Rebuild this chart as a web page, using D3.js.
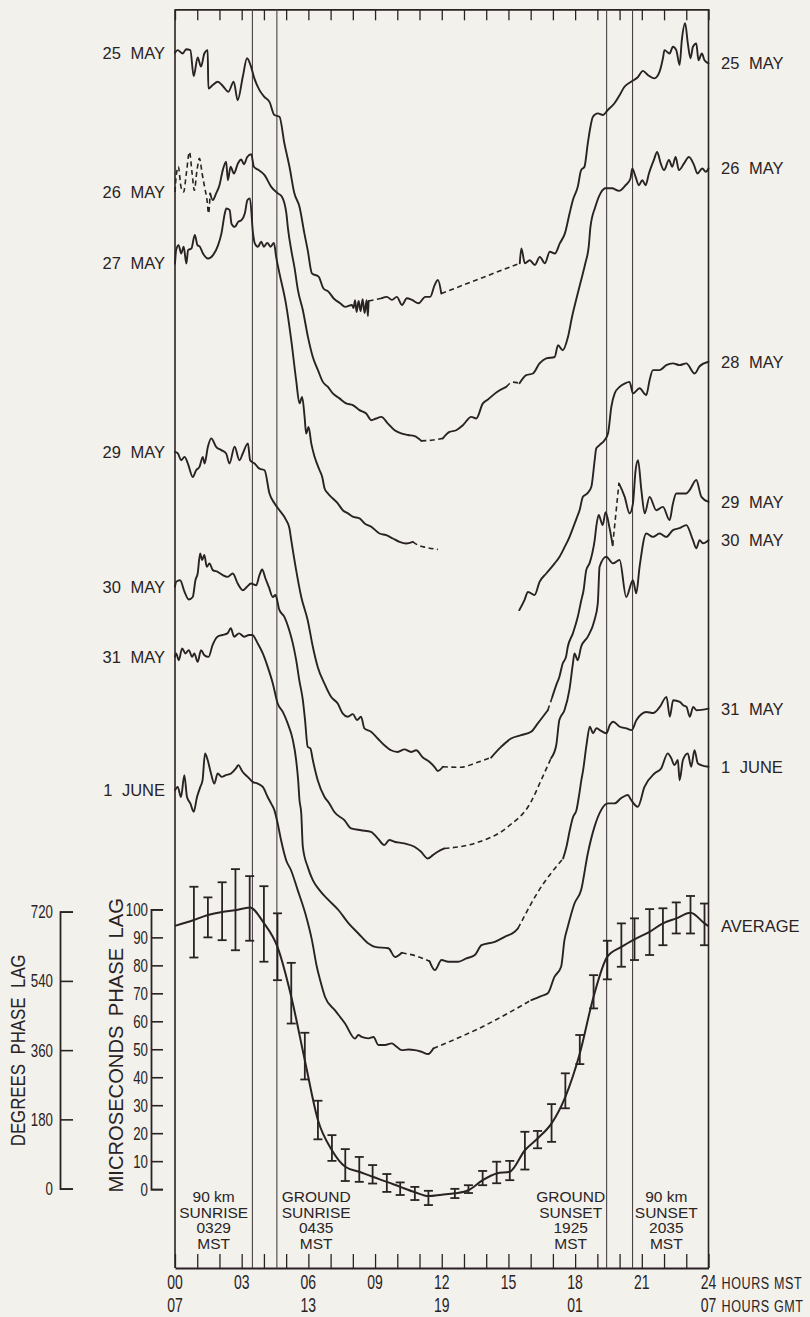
<!DOCTYPE html>
<html>
<head>
<meta charset="utf-8">
<script src="https://cdn.jsdelivr.net/npm/d3@7"></script>
<style>
  html, body { margin: 0; padding: 0; background: #f2f1ec; }
  svg { display: block; }
</style>
</head>
<body>
<svg id="chart" width="810" height="1317"></svg>
<script>
// Hours (MST) and phase lag (microseconds, stacked scale) for each daily record.
// A third element of 1 marks the segment leading to that point as interpolated (dashed).
const may25 = [[0,406.3],[0.12,407.2],[0.35,406.0],[0.50,407.5],[0.69,407.2],[0.84,397.9],[1.02,404.6],[1.17,401.3],[1.32,406.0],[1.47,407.2],[1.50,393.5],[1.70,394.7],[1.92,395.9],[2.15,394.4],[2.40,392.3],[2.64,395.9],[2.82,389.3],[3.05,397.7],[3.24,404.3],[3.42,401.3],[3.57,397.1],[3.80,392.9],[4.02,390.5],[4.25,388.7],[4.47,384.0],[4.70,383.4],[4.92,373.9],[5.15,365.5],[5.37,356.0],[5.60,351.2],[5.82,341.7],[5.97,335.7],[6.16,327.4],[6.46,326.2],[6.68,322.0],[6.91,320.8],[7.13,318.5],[7.43,316.7],[7.66,315.4],[7.96,316.1],[8.03,315.0],[8.10,317.8],[8.17,313.6],[8.26,317.5],[8.35,313.9],[8.44,318.2],[8.53,313.2],[8.62,317.8],[8.68,312.1],[8.71,317.5],[9.31,318.5,1],[9.53,319.0],[9.76,317.9],[9.98,319.0],[10.21,316.1],[10.43,318.5],[10.66,317.9],[10.96,316.7],[11.26,319.0],[11.48,319.0],[11.68,323.2],[11.83,325.0],[11.98,320.2],[15.51,331.0,1],[15.58,336.3],[15.74,331.0],[15.96,332.1],[16.19,330.4],[16.41,333.3],[16.64,331.0],[16.86,335.1],[17.09,334.5],[17.31,338.1],[17.54,341.7],[17.75,348.8],[17.90,353.6],[18.12,358.4],[18.27,364.3],[18.42,365.5],[18.57,373.9],[18.69,379.8],[18.80,383.4],[19.02,384.6],[19.25,384.0],[19.47,385.8],[19.77,388.2],[20.00,391.1],[20.22,394.1],[20.52,395.9],[20.82,397.5],[21.05,399.8],[21.27,398.3],[21.57,397.1],[21.80,399.5],[21.95,404.3],[22.02,407.2],[22.25,406.0],[22.40,408.4],[22.55,407.2],[22.70,401.9],[22.80,410.8],[22.95,416.8],[23.07,409.6],[23.19,404.3],[23.30,408.4],[23.45,409.6],[23.55,403.6],[23.70,406.0],[23.82,403.6],[24,402.5]];

const may26 = [[0,356.5],[0.05,361.9,1],[0.15,365.5,1],[0.27,358.3,1],[0.39,356.5,1],[0.51,363.1,1],[0.65,370.8,1],[0.77,363.1,1],[0.87,357.1,1],[0.99,364.3,1],[1.10,368.5,1],[1.22,363.1,1],[1.33,358.3,1],[1.44,353.6,1],[1.51,348.8,1],[1.58,356.0,1],[1.70,353.6],[1.85,356.0],[2.00,358.9],[2.15,364.3],[2.30,367.3],[2.38,360.7],[2.50,365.5],[2.65,363.1],[2.83,366.7],[2.98,368.1],[3.10,366.4],[3.25,369.0],[3.43,370.0],[3.55,365.5],[3.73,364.5],[4.03,362.5],[4.33,358.3],[4.63,356.0],[4.81,354.8],[5.01,348.8],[5.08,343.6],[5.23,335.7],[5.38,329.3],[5.53,321.4],[5.75,314.3],[5.98,304.7],[6.20,297.5],[6.43,292.8],[6.65,288.6],[6.88,286.8],[7.10,284.5],[7.40,282.7],[7.70,280.9],[8.00,280.3],[8.30,278.5],[8.60,277.3],[8.83,274.9],[9.05,275.5],[9.28,276.1],[9.58,273.7],[9.88,271.3],[10.18,270.2],[10.48,269.6],[10.78,269.2],[11.08,267.5],[11.60,267.8,1],[12.05,268.4,1],[12.35,270.7],[12.65,271.3],[12.95,273.1],[13.33,276.1],[13.55,275.5],[13.85,280.9],[14.08,282.3],[14.47,284.9],[14.90,286.8],[15.19,288.5,1],[15.50,288.1,1],[15.80,291.0],[16.10,291.6],[16.40,295.2],[16.70,297.0],[17.08,297.5],[17.23,301.7],[17.44,299.9],[17.68,304.7],[17.86,311.8],[18.08,319.0],[18.31,326.2],[18.46,331.0],[18.61,336.9],[18.69,344.0],[18.91,351.2],[19.14,356.0],[19.37,357.8],[19.66,357.8],[19.97,356.9],[20.27,358.9],[20.49,361.3],[20.57,364.9],[20.72,361.9],[20.87,358.9],[21.02,360.7],[21.17,358.9],[21.32,363.1],[21.54,367.9],[21.69,370.8],[21.85,366.7],[22.00,364.3],[22.22,367.9],[22.37,365.5],[22.52,369.0],[22.67,364.3],[22.90,366.7],[23.12,369.0],[23.35,366.1],[23.50,363.1],[23.72,364.9],[23.88,363.7],[24,364.9]];

const may27 = [[0,330.9],[0.05,335.7],[0.16,337.5],[0.28,334.5],[0.39,336.9],[0.51,330.9],[0.59,335.7],[0.74,336.3],[0.89,341.1],[1.01,337.5],[1.12,336.9],[1.26,334.5],[1.49,332.7],[1.71,333.9],[1.94,337.5],[2.09,341.7],[2.24,348.8],[2.31,350.6],[2.46,350.0],[2.54,345.2],[2.69,344.0],[2.84,345.8],[2.99,346.4],[3.14,348.8],[3.26,353.6],[3.37,354.2],[3.51,341.7],[3.59,338.1],[3.73,336.9],[3.88,338.7],[4.00,336.9],[4.15,338.3],[4.30,336.9],[4.45,338.3],[4.55,333.3],[4.70,327.4],[4.99,316.6],[5.23,303.5],[5.45,289.2],[5.60,280.9],[5.72,283.2],[5.83,276.1],[5.90,270.1],[6.01,272.5],[6.13,266.6],[6.28,261.8],[6.50,257.1],[6.62,254.7],[6.73,250.5],[6.88,248.7],[7.10,246.9],[7.33,245.1],[7.55,242.7],[7.78,241.6],[8.00,240.4],[8.30,239.8],[8.53,238.0],[8.83,236.8],[9.20,234.4],[9.50,233.8],[9.80,232.6],[10.10,231.4],[10.40,230.8],[10.70,231.4],[11.00,230.0,1],[11.30,229.4,1],[11.83,228.7,1]];

const may28 = [[15.49,207.0],[15.72,210.6],[15.88,213.5],[16.18,212.4],[16.40,217.1],[16.70,220.1],[17.08,223.7],[17.30,226.1],[17.53,229.6],[17.75,233.2],[17.90,236.3],[18.07,239.9],[18.20,242.7],[18.35,247.5],[18.56,248.8],[18.73,251.1],[18.88,260.6],[18.95,264.8],[19.10,266.0],[19.33,267.8],[19.48,270.2],[19.63,279.7],[19.78,284.5],[20.00,286.8],[20.23,288.0],[20.45,288.6],[20.60,284.5],[20.90,286.3],[21.20,283.9],[21.35,289.2],[21.50,292.8],[21.80,292.8],[22.10,294.6],[22.40,295.2],[22.70,294.6],[23.00,295.2],[23.38,291.6],[23.60,294.2],[24,295.8]];

const may29 = [[0,263.6],[0.13,263.0],[0.28,260.6],[0.43,261.8],[0.58,259.4],[0.80,254.6],[0.95,257.0],[1.10,258.2],[1.25,261.8],[1.33,259.4],[1.48,265.4],[1.63,268.4],[1.85,265.4],[2.08,264.2],[2.30,263.0],[2.45,259.4],[2.68,265.4],[2.90,260.6],[3.05,263.0],[3.28,266.6],[3.38,260.6],[3.58,259.4],[3.80,257.6],[4.03,257.0],[4.25,248.7],[4.48,245.1],[4.70,242.7],[5.00,239.2],[5.15,236.2],[5.23,232.0],[5.45,221.3],[5.68,211.7],[5.97,203.4],[6.20,193.9],[6.42,186.7],[6.72,180.8],[7.02,176.0],[7.32,173.6],[7.55,170.0],[7.77,168.9],[8.00,169.8],[8.19,167.7],[8.37,168.9],[8.52,164.7],[8.82,163.5],[9.12,161.1],[9.42,158.7],[9.72,156.9],[10.02,156.3],[10.32,157.2],[10.62,156.3],[10.85,156.9],[11.15,154.3],[11.44,152.8],[11.67,151.0],[11.82,149.5],[12.05,151.0],[12.87,150.8,1],[13.47,152.2,1],[14.22,154.3,1],[14.67,158.1],[15.12,161.1],[15.57,162.3],[16.02,163.5],[16.32,166.5],[16.77,171.2],[16.97,175.9,1],[17.15,180.2],[17.29,183.1],[17.44,187.9],[17.59,190.3],[17.67,193.9],[17.90,198.7],[18.12,204.6],[18.28,210.6],[18.38,214.1],[18.50,221.3],[18.65,223.8],[18.77,227.3],[18.88,232.0],[18.95,236.8],[19.06,241.0],[19.24,237.4],[19.37,242.0],[19.55,236.3],[19.69,230.2],[19.97,252.3,1],[20.23,247.5],[20.45,241.6],[20.60,245.1],[20.72,257.0],[20.83,260.6],[20.98,249.9],[21.13,241.6],[21.35,247.5],[21.65,242.7],[21.95,243.9],[22.25,239.2],[22.40,245.1],[22.55,248.7],[23.00,248.7],[23.15,249.9],[23.45,253.5],[23.68,247.5],[24,245.7]];

const may30 = [[0,215.3],[0.05,217.1],[0.23,217.7],[0.43,213.5],[0.62,210.8],[0.80,211.7],[0.92,217.7],[1.02,220.1],[1.13,227.3],[1.22,224.9],[1.32,226.7],[1.43,222.5],[1.55,223.7],[1.70,221.3],[1.92,220.7],[2.15,219.5],[2.37,218.9],[2.60,220.1],[2.82,216.5],[3.05,214.1],[3.23,215.3],[3.42,216.5],[3.65,215.9],[3.80,219.5],[3.92,221.5],[4.07,218.3],[4.22,215.3],[4.40,211.7],[4.52,212.4],[4.69,207.2],[4.92,204.6],[5.14,199.8],[5.30,195.1],[5.45,189.2],[5.59,182.0],[5.75,174.9],[5.85,167.7],[5.97,158.1],[6.09,157.6],[6.20,153.4],[6.42,146.2],[6.72,140.3],[6.94,137.9],[7.17,134.8],[7.62,131.9],[7.92,129.0],[8.37,128.3],[8.82,127.7],[9.12,125.4],[9.42,123.0],[9.64,124.8],[9.87,124.2],[10.32,123.6],[10.77,122.4],[11.07,120.6],[11.37,118.2],[11.60,119.4],[11.82,120.6],[12.12,121.8],[13.47,123.6,1],[14.97,129.5,1],[16.02,138.5,1],[16.47,146.2,1],[16.92,154.1,1],[17.15,158.7],[17.29,167.7],[17.52,171.2],[17.74,178.4],[17.90,187.9],[17.97,191.5],[18.12,189.1],[18.27,193.9],[18.57,197.5],[18.87,203.4],[19.02,209.4],[19.10,222.5],[19.40,226.1],[19.70,223.7],[20.00,224.9],[20.30,211.7],[20.60,217.7],[20.75,213.0],[20.90,222.5],[21.20,234.4],[21.50,233.2],[21.80,234.4],[22.10,233.2],[22.40,235.6],[22.70,236.3],[23.00,237.4],[23.30,232.0],[23.45,229.1],[23.60,232.0],[23.75,230.9],[24,232.0]];

const may31 = [[0,190.3],[0.05,191.5],[0.17,189.1],[0.32,193.3],[0.47,191.5],[0.62,192.7],[0.77,190.3],[0.87,191.5],[1.02,188.5],[1.17,192.7],[1.32,190.9],[1.51,190.3],[1.69,194.5],[1.91,197.5],[2.13,198.1],[2.36,198.7],[2.51,200.5],[2.66,197.5],[2.88,198.7],[3.11,197.5],[3.33,198.1],[3.48,198.1],[3.72,195.1],[3.95,191.5],[4.17,186.7],[4.40,180.8],[4.62,173.6],[4.85,170.6],[5.07,166.5],[5.30,160.6],[5.45,153.4],[5.54,146.2],[5.60,139.1],[5.68,134.3],[5.75,122.4],[5.97,115.2],[6.20,110.5],[6.50,106.9],[6.91,103.3],[7.36,99.7],[7.81,95.0],[8.25,91.4],[8.70,87.8],[9.00,86.6],[9.60,86.1],[9.90,83.0],[10.20,84.5],[10.87,83.3,1],[11.45,81.5,1],[11.69,78.3],[11.99,81.9],[12.29,81.3],[12.74,81.3],[13.11,82.5],[13.49,83.7],[13.79,87.2],[14.38,88.4],[14.83,90.2],[15.28,92.0],[15.43,93.2],[16.38,106.9,1],[17.46,118.2,1],[17.61,122.4],[17.76,128.3],[17.91,133.1],[18.06,135.5],[18.18,140.9],[18.28,146.2],[18.36,149.8],[18.51,158.7],[18.66,165.3],[18.81,163.0],[18.96,164.8],[19.11,164.1],[19.41,163.0],[19.56,165.9],[19.71,167.1],[20.01,165.3],[20.31,164.7],[20.54,164.1],[20.76,167.7],[21.21,170.6],[21.51,170.2],[21.81,172.4],[22.11,176.0],[22.26,168.9],[22.41,174.8],[22.71,174.2],[22.86,173.0],[23.01,172.4],[23.16,168.9],[23.31,172.4],[23.46,171.2],[24,171.8]];

const jun1 = [[0,142.6],[0.12,143.8],[0.27,140.2],[0.42,148.0],[0.54,140.2],[0.69,137.9],[0.84,134.9],[0.99,140.2],[1.14,143.8],[1.24,146.2],[1.35,155.8],[1.47,153.4],[1.62,148.6],[1.77,145.0],[1.92,148.6],[2.10,147.4],[2.29,148.0],[2.52,148.6],[2.74,150.4],[2.85,151.6],[3.04,149.2],[3.27,147.4],[3.49,145.6],[3.72,145.0],[3.95,143.8],[4.17,140.2],[4.32,137.9],[4.47,135.5],[4.62,130.7],[4.77,124.8],[5.00,117.6],[5.22,114.0],[5.52,106.9],[5.86,98.6],[6.16,89.0],[6.38,79.5],[6.53,74.7],[6.75,68.7],[7.20,63.9],[7.65,59.2],[8.10,53.8],[8.25,55.1],[8.40,54.4],[8.70,53.9],[8.93,54.4],[9.15,51.5],[9.45,51.5],[9.75,52.1],[9.97,50.9],[10.20,49.7],[10.50,49.9],[10.79,49.7],[11.09,49.1],[11.39,48.3],[11.62,50.3],[13.79,57.9,1],[16.03,67.6,1],[16.47,69.0],[16.77,70.0],[17.07,75.9],[17.37,79.5],[17.52,89.0],[17.67,93.8],[17.97,102.1],[18.27,106.9],[18.57,120.0],[18.87,129.5],[19.17,135.5],[19.47,137.9],[19.77,137.9],[20.07,139.8],[20.37,140.9],[20.52,139.1],[20.82,136.7],[21.12,143.8],[21.57,148.6],[21.87,150.4],[22.17,155.8],[22.32,154.1],[22.47,151.6],[22.62,153.4],[22.70,146.2],[22.85,153.4],[23.07,155.8],[23.22,151.0],[23.37,156.9],[23.52,152.2],[23.67,151.6],[24,151.0]];

// Average of the daily records: bar positions (hours), bar limits and the mean curve (microseconds)
const avgBarHours = [0.85,1.48,2.12,2.72,3.36,4.00,4.61,5.23,5.84,6.43,7.06,7.66,8.29,8.89,9.53,10.13,10.79,11.40,12.59,13.20,13.84,14.47,15.06,15.74,16.31,16.94,17.56,18.21,18.83,19.45,20.08,20.67,21.35,21.95,22.55,23.19,23.82];
const avgBarHigh = [108.1,104.3,109.7,114.4,111.9,108.3,98.6,80.9,55.9,31.6,19.3,14.3,11.5,8.6,5.4,2.4,0.8,-0.6,0.1,1.4,6.5,9.8,10.1,20.5,20.8,30.4,41.4,55.1,76.5,88.8,95.0,96.8,100.1,100.4,102.5,104.8,102.1];
const avgBarLow = [82.8,90.0,89.0,85.4,88.8,81.3,74.7,59.2,39.2,17.8,10.1,2.9,2.6,2.0,-1.0,-2.1,-3.9,-5.7,-3.2,-1.4,1.4,2.1,3.2,7.0,14.6,16.9,28.9,44.7,64.6,75.0,79.5,81.9,83.7,87.2,91.4,91.4,87.2];
const avgCurveHours = [0,0.85,1.48,2.12,2.72,3.36,4.00,4.61,5.23,5.84,6.43,7.06,7.66,8.29,8.89,9.53,10.13,10.79,11.40,12.0,12.59,13.20,13.84,14.47,15.06,15.74,16.31,16.94,17.56,18.21,18.83,19.45,20.08,20.67,21.35,21.95,22.55,23.19,23.82,24];
const avgCurve = [94.1,96.2,98.0,99.1,99.7,100.7,95.1,86.6,68.8,46.1,24.7,13.9,8.0,6.2,4.4,2.6,0.8,-1.1,-2.5,-2.0,-1.5,-0.4,3.2,5.6,6.2,13.9,18.1,23.5,33.0,48.5,68.8,83.1,86.6,89.3,92.0,95.0,96.8,98.8,95.0,94.0];

// Sunrise / sunset times (hours MST) and their captions
const sunHours = [3.483, 4.583, 19.417, 20.583];
const sunCaptions = [["90 km","SUNRISE","0329","MST"],["GROUND","SUNRISE","0435","MST"],["GROUND","SUNSET","1925","MST"],["90 km","SUNSET","2035","MST"]];

// Axis labels
const mstHours = [0,3,6,9,12,15,18,21,24];
const mstLabels = ["00","03","06","09","12","15","18","21","24"];
const gmtHours = [0,6,12,18,24];
const gmtLabels = ["07","13","19","01","07"];
const usTicks = [0,10,20,30,40,50,60,70,80,90,100];
const degTicks = [0,180,360,540,720];

const days = [
  {name: "25 MAY", data: may25, left: true,  right: true},
  {name: "26 MAY", data: may26, left: true,  right: true},
  {name: "27 MAY", data: may27, left: true,  right: false},
  {name: "28 MAY", data: may28, left: false, right: true},
  {name: "29 MAY", data: may29, left: true,  right: true},
  {name: "30 MAY", data: may30, left: true,  right: true},
  {name: "31 MAY", data: may31, left: true,  right: true},
  {name: "1 JUNE", data: jun1,  left: true,  right: true}
];

// ---- layout ----
const ink = "#2a2324";
const frame = {left: 175, right: 708.5, top: 9.3, bottom: 1268};
const x = d3.scaleLinear().domain([0, 24]).range([frame.left, frame.right]);
const y = d3.scaleLinear().domain([-28.2, 421.8]).range([frame.bottom, frame.top]);
const captionCenters = [1.74, 6.35, 17.8, 22.1];
const sans = "'Liberation Sans', Arial, sans-serif";
const narrowScale = 0.7;   // tall, condensed numerals

const svg = d3.select("#chart");
svg.append("rect").attr("width", 810).attr("height", 1317).attr("fill", "#f2f1ec");

// frame with hourly ticks
const topAxis = svg.append("g").attr("transform", `translate(0,${frame.top})`)
  .call(d3.axisBottom(x).tickValues(d3.range(0, 25)).tickSize(11).tickSizeOuter(0).tickFormat(""));
const botAxis = svg.append("g").attr("transform", `translate(0,${frame.bottom})`)
  .call(d3.axisTop(x).tickValues(d3.range(0, 25)).tickSize(14).tickSizeOuter(0).tickFormat(""));
[topAxis, botAxis].forEach(g => {
  g.select(".domain").attr("stroke", ink).attr("stroke-width", 1.8);
  g.selectAll(".tick line").attr("stroke", ink).attr("stroke-width", 1.3);
});
[frame.left, frame.right].forEach(px => {
  svg.append("line").attr("x1", px).attr("x2", px).attr("y1", frame.top).attr("y2", frame.bottom)
    .attr("stroke", ink).attr("stroke-width", 1.6);
});

// sunrise / sunset markers
svg.selectAll("line.sun").data(sunHours).join("line").attr("class", "sun")
  .attr("x1", d => x(d)).attr("x2", d => x(d)).attr("y1", frame.top).attr("y2", frame.bottom)
  .attr("stroke", "#4a4345").attr("stroke-width", 1.1);

const capBase = [1202, 1217.5, 1233, 1248.5];
sunCaptions.forEach((lines, i) => {
  lines.forEach((t, j) => {
    svg.append("text").attr("x", x(captionCenters[i])).attr("y", capBase[j])
      .attr("text-anchor", "middle").attr("fill", ink)
      .style("font-family", sans).style("font-size", "15.5px")
      .text(t);
  });
});

// bottom time labels
function timeRow(hours, labels, base, unit) {
  hours.forEach((h, i) => {
    svg.append("text").attr("transform", `translate(${x(h)},${base}) scale(${narrowScale},1)`)
      .attr("text-anchor", "middle").attr("fill", ink)
      .style("font-family", sans).style("font-size", "20px").text(labels[i]);
  });
  svg.append("text").attr("transform", `translate(${x(24) + 13},${base}) scale(0.74,1)`)
    .attr("fill", ink)
    .style("font-family", sans).style("font-size", "17px").style("letter-spacing", "0.8px")
    .text(unit);
}
timeRow(mstHours, mstLabels, 1288.5, "HOURS MST");
timeRow(gmtHours, gmtLabels, 1311.5, "HOURS GMT");

// phase-lag scales for the average curve
const usScale = d3.scaleLinear().domain([0, 100]).range([y(0), y(100)]);
const degScale = d3.scaleLinear().domain([0, 720]).range([y(0) - 0.5, y(99.2)]);
function styleScale(pad) {
  return g => {
    g.select(".domain").attr("stroke", ink).attr("stroke-width", 1.8).attr("fill", "none");
    g.selectAll(".tick line").attr("stroke", ink).attr("stroke-width", 1.6);
    g.selectAll(".tick text").attr("fill", ink)
      .attr("x", -pad / narrowScale).attr("transform", `scale(${narrowScale},1)`)
      .style("font-family", sans).style("font-size", "19px");
  };
}
svg.append("g").attr("transform", "translate(151,0)")
  .call(d3.axisLeft(usScale).tickValues(usTicks).tickSize(-12).tickSizeOuter(-12))
  .call(styleScale(3));
svg.append("g").attr("transform", "translate(60,0)")
  .call(d3.axisLeft(degScale).tickValues(degTicks).tickSize(-13).tickSizeOuter(-13))
  .call(styleScale(7));

svg.append("text").attr("transform", `translate(25,${y(50) + 1}) rotate(-90) scale(0.82,1)`)
  .attr("text-anchor", "middle").attr("fill", ink)
  .style("font-family", sans).style("font-size", "20.5px")
  .style("word-spacing", "6px").text("DEGREES PHASE LAG");
svg.append("text").attr("transform", `translate(123,${y(50) - 4}) rotate(-90) scale(0.96,1)`)
  .attr("text-anchor", "middle").attr("fill", ink)
  .style("font-family", sans).style("font-size", "21px")
  .style("word-spacing", "4px").text("MICROSECONDS PHASE LAG");

// daily records
const line = d3.line().x(d => x(d[0])).y(d => y(d[1])).curve(d3.curveMonotoneX);
function runs(pts) {
  const out = [];
  let cur = null;
  for (let i = 1; i < pts.length; i++) {
    const dashed = pts[i][2] === 1;
    if (!cur || cur.dashed !== dashed) { cur = {dashed, pts: [pts[i - 1]]}; out.push(cur); }
    cur.pts.push(pts[i]);
  }
  return out;
}
function dayLabel(px, v, anchor, text) {
  svg.append("text").attr("x", px).attr("y", y(v)).attr("dy", "0.36em")
    .attr("text-anchor", anchor).attr("fill", ink)
    .style("font-family", sans).style("font-size", "16.5px").style("word-spacing", "5px")
    .text(text);
}
days.forEach(day => {
  runs(day.data).forEach(r => {
    svg.append("path").attr("d", line(r.pts)).attr("fill", "none")
      .attr("stroke", ink).attr("stroke-width", r.dashed ? 1.6 : 1.9)
      .attr("stroke-linejoin", "round").attr("stroke-linecap", r.dashed ? "butt" : "round")
      .attr("stroke-dasharray", r.dashed ? "5,3.5" : null);
  });
  const first = day.data[0], last = day.data[day.data.length - 1];
  if (day.left) dayLabel(165, first[1], "end", day.name);
  if (day.right) dayLabel(721, last[1], "start", day.name);
});

// average with spread bars
const avgPts = avgCurveHours.map((h, i) => [h, avgCurve[i]]);
svg.append("path").attr("d", line(avgPts)).attr("fill", "none")
  .attr("stroke", ink).attr("stroke-width", 2).attr("stroke-linejoin", "round");
const bars = svg.append("g").attr("stroke", ink).attr("stroke-width", 1.8);
avgBarHours.forEach((h, i) => {
  const cx = x(h), y1 = y(avgBarHigh[i]), y2 = y(avgBarLow[i]);
  bars.append("line").attr("x1", cx).attr("x2", cx).attr("y1", y1).attr("y2", y2);
  bars.append("line").attr("x1", cx - 4.5).attr("x2", cx + 4.5).attr("y1", y1).attr("y2", y1);
  bars.append("line").attr("x1", cx - 4.5).attr("x2", cx + 4.5).attr("y1", y2).attr("y2", y2);
});
dayLabel(721, avgCurve[avgCurve.length - 1], "start", "AVERAGE");
</script>
</body>
</html>
